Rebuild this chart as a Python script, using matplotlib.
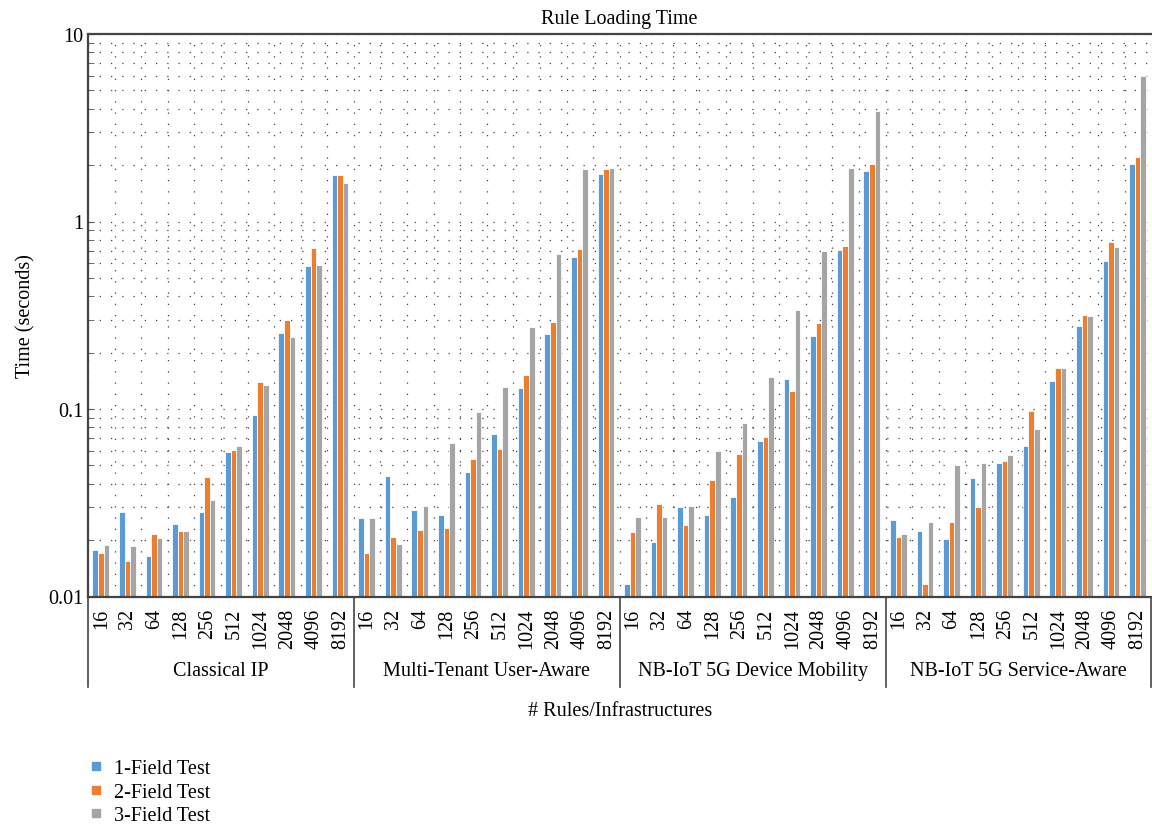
import numpy as np
import matplotlib
matplotlib.use("Agg")
import matplotlib.pyplot as plt
from matplotlib.lines import Line2D
from matplotlib.ticker import FixedLocator, NullFormatter

plt.rcParams['font.family'] = ['Liberation Serif', 'DejaVu Serif']

groups = ['Classical IP', 'Multi-Tenant User-Aware',
          'NB-IoT 5G Device Mobility', 'NB-IoT 5G Service-Aware']
rules = ['16', '32', '64', '128', '256', '512', '1024', '2048', '4096', '8192']

# values in seconds, one list per series, groups concatenated in order
field1 = [0.0177, 0.0281, 0.0164, 0.0244, 0.0281, 0.0588, 0.0933, 0.254, 0.576, 1.78,
          0.0262, 0.0439, 0.0289, 0.0271, 0.0460, 0.0736, 0.129, 0.250, 0.644, 1.79,
          0.0117, 0.0195, 0.0300, 0.0272, 0.0340, 0.0676, 0.144, 0.244, 0.701, 1.85,
          0.0256, 0.0224, 0.0203, 0.0428, 0.0513, 0.0633, 0.1405, 0.276, 0.616, 2.02]
field2 = [0.0171, 0.0155, 0.0215, 0.0224, 0.0435, 0.0603, 0.1397, 0.300, 0.722, 1.78,
          0.0171, 0.0208, 0.0225, 0.0233, 0.0542, 0.0613, 0.152, 0.290, 0.710, 1.90,
          0.0222, 0.0312, 0.0241, 0.0417, 0.0577, 0.0710, 0.125, 0.286, 0.736, 2.02,
          0.0207, 0.0117, 0.0249, 0.0299, 0.0528, 0.0973, 0.165, 0.317, 0.777, 2.21]
field3 = [0.0188, 0.0186, 0.0204, 0.0224, 0.0329, 0.0638, 0.134, 0.241, 0.589, 1.61,
          0.0262, 0.0190, 0.0304, 0.0657, 0.0968, 0.131, 0.274, 0.673, 1.90, 1.93,
          0.0266, 0.0265, 0.0302, 0.0596, 0.0839, 0.148, 0.339, 0.692, 1.93, 3.89,
          0.0216, 0.0250, 0.0501, 0.0517, 0.0571, 0.0778, 0.165, 0.313, 0.731, 5.98]

series = [('1-Field Test', field1, '#5B9BD5'),
          ('2-Field Test', field2, '#ED7D31'),
          ('3-Field Test', field3, '#A5A5A5')]

fs = 14.5
fig = plt.figure(figsize=(11.52, 8.29), dpi=100)
ax = fig.add_axes([88/1152, 1 - 597.5/829, 1 - 88/1152 - 0.0005, (597.5 - 35)/829])

n = len(groups) * len(rules)
x = np.arange(n)
w = 0.21
for i, (name, vals, col) in enumerate(series):
  ax.bar(x + (i - 1)*w - 0.02, vals, w, color=col, edgecolor='white',
         linewidth=0.6, label=name, zorder=2)

ax.set_yscale('log')
ax.set_ylim(0.01, 10)
ax.set_xlim(-0.5, n - 0.5)

ax.set_yticks([0.01, 0.1, 1, 10])
ax.set_yticklabels(['0.01', '0.1', '1', '10'], fontsize=fs)
ax.tick_params(axis='y', which='both', direction='in', length=4, color='#555555')

ax.set_xticks(x)
ax.set_xticklabels(rules * len(groups), rotation=90, fontsize=fs, va='top')
ax.xaxis.set_minor_locator(FixedLocator(np.arange(-0.5, n, 1)))
ax.xaxis.set_minor_formatter(NullFormatter())
ax.tick_params(axis='x', which='both', length=0, pad=8)

dots = (0, (1, 8))
ax.grid(True, axis='y', which='both', linestyle=dots, color='#444444', linewidth=0.9)
ax.grid(True, axis='x', which='minor', linestyle=dots, color='#444444', linewidth=0.9)
ax.grid(False, axis='x', which='major')
ax.set_axisbelow(True)

for s in ['left', 'bottom', 'top']:
  ax.spines[s].set_color('#444444')
  ax.spines[s].set_linewidth(1.6)
ax.spines['right'].set_visible(False)

# group separators and names under the tick labels
trans = ax.get_xaxis_transform()
for k in range(len(groups) + 1):
  xs = k*len(rules) - 0.5
  ax.plot([xs, xs], [0, -0.16], transform=trans, color='#444444',
          linewidth=1.2, clip_on=False)
for k, g in enumerate(groups):
  ax.text(k*len(rules) + 4.5, -0.132, g, transform=trans, ha='center',
          va='center', fontsize=fs)

ax.set_title('Rule Loading Time', fontsize=fs, pad=8)
ax.set_ylabel('Time (seconds)', fontsize=fs, labelpad=9)
fig.text(620/1152, 1 - 712/829, '# Rules/Infrastructures', ha='center',
         va='center', fontsize=fs)

handles = [Line2D([], [], marker='s', linestyle='none', markersize=6,
                  color=c, label=nm) for nm, _, c in series]
fig.legend(handles=handles, loc='upper left', bbox_to_anchor=(68/1152, 1 - 742/829),
           frameon=False, fontsize=fs, handletextpad=0.4, labelspacing=0.22,
           handlelength=1.0)

fig.savefig('out.png', dpi=100)
